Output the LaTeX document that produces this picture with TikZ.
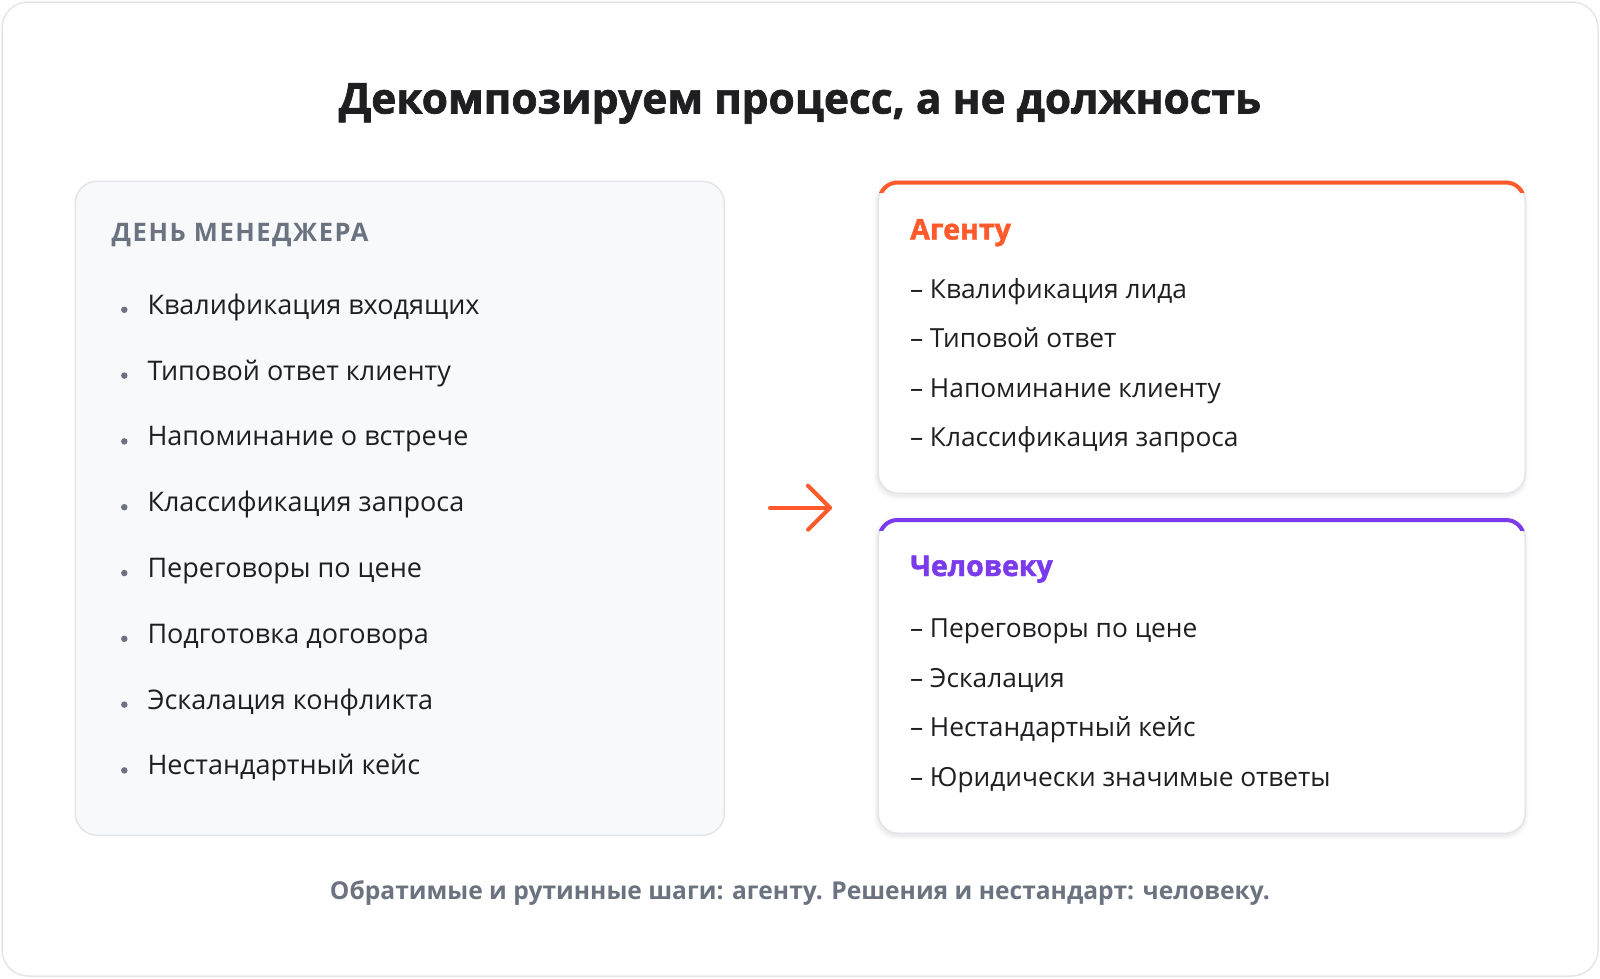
\documentclass[tikz,border=0pt]{standalone}
\usepackage{fontspec}
\setmainfont{Open Sans}
\newfontfamily\heavyfont{Open Sans}[UprightFeatures={FakeBold=0}, BoldFeatures={FakeBold=1.6}]
\definecolor{ink}{HTML}{1F1F22}
\definecolor{muted}{HTML}{6B7280}
\definecolor{accentA}{HTML}{FF5A2C}
\definecolor{accentH}{HTML}{7C3AED}
\definecolor{cardline}{HTML}{E4E5EA}
\definecolor{panelfill}{HTML}{F8F9FB}
\tikzset{
  txt/.style={inner sep=0pt, outer sep=0pt, anchor=base west, text=ink, font=\fontsize{27}{32}\selectfont},
  rtxt/.style={inner sep=0pt, outer sep=0pt, anchor=base west, text=ink, font=\fontsize{26.3}{32}\selectfont},
  titletext/.style={inner sep=0pt, anchor=base, text=ink, font=\heavyfont\fontsize{42.4}{48}\selectfont\bfseries},
  headtxt/.style={inner sep=0pt, anchor=base west, font=\heavyfont\fontsize{28.5}{34}\selectfont\bfseries},
  capsTxt/.style={inner sep=0pt, anchor=base west, text=muted, font=\fontsize{25.5}{30}\selectfont\bfseries\addfontfeature{LetterSpace=6}},
  foottxt/.style={inner sep=0pt, anchor=base, text=muted, font=\fontsize{24.6}{29}\selectfont\bfseries},
  bulletdot/.style={circle, fill=muted, inner sep=0pt, minimum size=6.5pt},
  panel/.style={draw=cardline, line width=1.5pt, rounded corners=22pt, anchor=north west, inner sep=0pt},
  whitebox/.style={draw=cardline, line width=1.5pt, fill=white, rounded corners=20pt, anchor=north west, inner sep=0pt},
  arrowline/.style={draw=accentA, line width=4pt, line cap=round, line join=round},
}
\begin{document}
\begin{tikzpicture}[x=1pt,y=-1pt]
\useasboundingbox (0,0) rectangle (1600,978);
\node[draw=cardline, line width=1.5pt, fill=white, rounded corners=26pt, minimum width=1596pt, minimum height=974pt, inner sep=0pt] (card) at (800,489) {};

\node[titletext] (title) at (800,113.5) {Декомпозируем процесс, а не должность};

% left panel
\node[panel, fill=panelfill, minimum width=649pt, minimum height=654pt] (day) at (74.5,180.5) {};
\node[capsTxt] (dayhead) at (111.5,241.7) {ДЕНЬ МЕНЕДЖЕРА};
\foreach \i/\t in {1/Квалификация входящих, 2/Типовой ответ клиенту, 3/Напоминание о встрече, 4/Классификация запроса, 5/Переговоры по цене, 6/Подготовка договора, 7/Эскалация конфликта, 8/Нестандартный кейс}{
  \pgfmathsetmacro{\yy}{314.3+65.8*(\i-1)}
  \node[bulletdot] (bl\i) at (124.3,\yy-4.5) {};
  \node[txt] (li\i) at (147.5,\yy) {\t};
}

% shadows for right boxes
\foreach \k/\o in {1/0.025,2/0.02,3/0.015,4/0.01}{
  \fill[black, opacity=\o, rounded corners=22pt] (877.5-\k,180.5+2-\k) rectangle (1524.5+\k,492.5+3+\k);
  \fill[black, opacity=\o, rounded corners=22pt] (877.5-\k,518+2-\k) rectangle (1524.5+\k,832.5+3+\k);
}

% agent box
\node[whitebox, minimum width=647pt, minimum height=312pt] (agent) at (877.5,180.5) {};
\begin{scope}
  \clip ([yshift=3pt]agent.north west) rectangle ([yshift=-12pt]agent.north east);
  \draw[accentA, line width=4pt, rounded corners=18pt] ([xshift=2pt,yshift=-2pt]agent.north west) rectangle ([xshift=-2pt,yshift=2pt]agent.south east);
\end{scope}
\node[headtxt, text=accentA] (agenthead) at (910,239.5) {Агенту};
\foreach \i/\t in {1/Квалификация лида, 2/Типовой ответ, 3/Напоминание клиенту, 4/Классификация запроса}{
  \pgfmathsetmacro{\yy}{298+49.5*(\i-1)}
  \node[rtxt] (ag\i) at (910,\yy) {– \t};
}

% human box
\node[whitebox, minimum width=647pt, minimum height=314.5pt] (human) at (877.5,518) {};
\begin{scope}
  \clip ([yshift=3pt]human.north west) rectangle ([yshift=-12pt]human.north east);
  \draw[accentH, line width=4pt, rounded corners=18pt] ([xshift=2pt,yshift=-2pt]human.north west) rectangle ([xshift=-2pt,yshift=2pt]human.south east);
\end{scope}
\node[headtxt, text=accentH] (humanhead) at (910,576) {Человеку};
\foreach \i/\t in {1/Переговоры по цене, 2/Эскалация, 3/Нестандартный кейс, 4/Юридически значимые ответы}{
  \pgfmathsetmacro{\yy}{637.3+49.7*(\i-1)}
  \node[rtxt] (hu\i) at (910,\yy) {– \t};
}

% arrow
\coordinate (arrS) at (770,507.7);
\coordinate (arrE) at (830,507.7);
\draw[arrowline] (arrS) -- (arrE);
\draw[arrowline] ([xshift=-22pt,yshift=22pt]arrE) -- (arrE) -- ([xshift=-22pt,yshift=-22pt]arrE);

% footer
\node[foottxt] (foot) at (800,899.3) {Обратимые и рутинные шаги: агенту. Решения и нестандарт: человеку.};
\end{tikzpicture}
\end{document}
